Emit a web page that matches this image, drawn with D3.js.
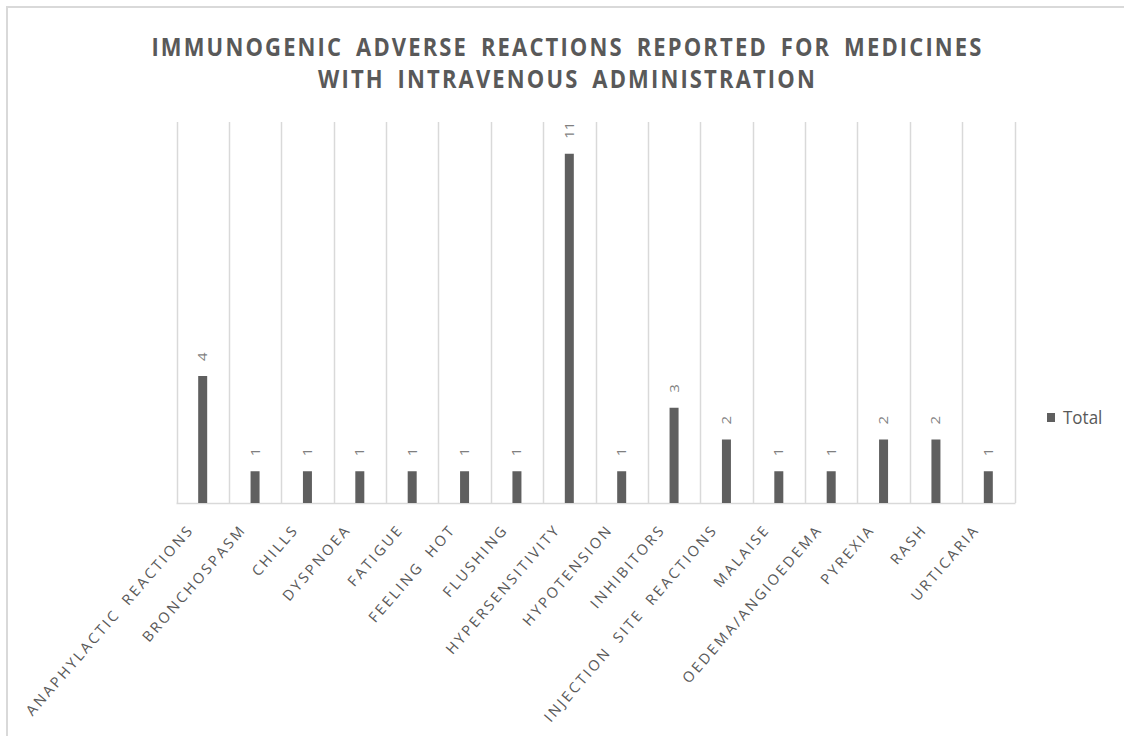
<!DOCTYPE html>
<html>
<head>
<meta charset="utf-8">
<script src="https://cdn.jsdelivr.net/npm/d3@7/dist/d3.min.js"></script>
<style>
  html, body { margin: 0; padding: 0; background: #fff; }
  svg { display: block; }
  text { font-family: "Open Sans", "Noto Sans", sans-serif; }
</style>
</head>
<body>
<svg id="chart" width="1124" height="736"></svg>
<script>
// Immunogenic adverse reactions, intravenous administration
const categories = [
  "ANAPHYLACTIC REACTIONS", "BRONCHOSPASM", "CHILLS", "DYSPNOEA", "FATIGUE",
  "FEELING HOT", "FLUSHING", "HYPERSENSITIVITY", "HYPOTENSION", "INHIBITORS",
  "INJECTION SITE REACTIONS", "MALAISE", "OEDEMA/ANGIOEDEMA", "PYREXIA", "RASH", "URTICARIA"
];
const totals = [4, 1, 1, 1, 1, 1, 1, 11, 1, 3, 2, 1, 1, 2, 2, 1];
const seriesName = "Total";
const titleLines = [
  "IMMUNOGENIC ADVERSE REACTIONS REPORTED FOR MEDICINES",
  "WITH INTRAVENOUS ADMINISTRATION"
];

const svg = d3.select("#chart");
const textColor = "#595959";
const barColor = "#5f5f5f";
const gridColor = "#d9d9d9";

// outer chart frame
svg.append("path")
  .attr("d", "M7,740 L7,7 L1130,7")
  .attr("fill", "none")
  .attr("stroke", gridColor)
  .attr("stroke-width", 2);

// title
const title = svg.append("g").attr("transform", "translate(567.5,0)");
title.selectAll("text").data(titleLines).join("text")
  .attr("transform", (d, i) => `translate(0,${55.5 + i * 32}) scale(1,1.1)`)
  .attr("text-anchor", "middle")
  .attr("fill", textColor)
  .attr("font-weight", 700)
  .attr("font-size", 22)
  .attr("letter-spacing", 2.15)
  .attr("word-spacing", 5)
  .text(d => d);

const plot = { left: 176.5, right: 1014.5, top: 122, bottom: 503 };

const x = d3.scaleBand()
  .domain(categories)
  .range([plot.left, plot.right])
  .paddingInner(0)
  .paddingOuter(0);

const y = d3.scaleLinear()
  .domain([0, 12])
  .range([plot.bottom, plot.top]);

// vertical category gridlines
const edges = categories.map(c => x(c)).concat([plot.right]);
svg.append("g").selectAll("line").data(edges).join("line")
  .attr("x1", d => Math.round(d) + 0.5).attr("x2", d => Math.round(d) + 0.5)
  .attr("y1", plot.top).attr("y2", plot.bottom)
  .attr("stroke", gridColor).attr("stroke-width", 1.5);

// category axis baseline
svg.append("line")
  .attr("x1", plot.left).attr("x2", plot.right + 1)
  .attr("y1", plot.bottom + 0.5).attr("y2", plot.bottom + 0.5)
  .attr("stroke", gridColor).attr("stroke-width", 1.5);

// bars
const barW = 9;
svg.append("g").selectAll("rect").data(totals).join("rect")
  .attr("x", (d, i) => x(categories[i]) + x.bandwidth() / 2 - barW / 2)
  .attr("y", d => y(d))
  .attr("width", barW)
  .attr("height", d => y(0) - y(d))
  .attr("fill", barColor);

// value labels, rotated
svg.append("g").selectAll("text").data(totals).join("text")
  .attr("transform", (d, i) =>
    `translate(${x(categories[i]) + x.bandwidth() / 2 + 4.5},${y(d) - 15}) rotate(-90) scale(1.15,1)`)
  .attr("fill", "#7f7f7f")
  .attr("font-size", 13)
  .attr("text-anchor", "start")
  .text(d => d);

// rotated category labels
svg.append("g").selectAll("text").data(categories).join("text")
  .attr("transform", c =>
    `translate(${x(c) + x.bandwidth() / 2 - 8},${plot.bottom + 27}) rotate(-49)`)
  .attr("text-anchor", "end")
  .attr("fill", textColor)
  .attr("font-size", 14.5)
  .attr("letter-spacing", 2.6)
  .attr("word-spacing", 5)
  .text(c => c);

// legend
const legend = svg.append("g").attr("transform", "translate(1047,413)");
legend.append("rect").attr("width", 8).attr("height", 9).attr("fill", barColor);
legend.append("text")
  .attr("transform", "translate(16,10.5) scale(1,1.1)")
  .attr("fill", textColor)
  .attr("font-size", 17)
  .text(seriesName);
</script>
</body>
</html>
